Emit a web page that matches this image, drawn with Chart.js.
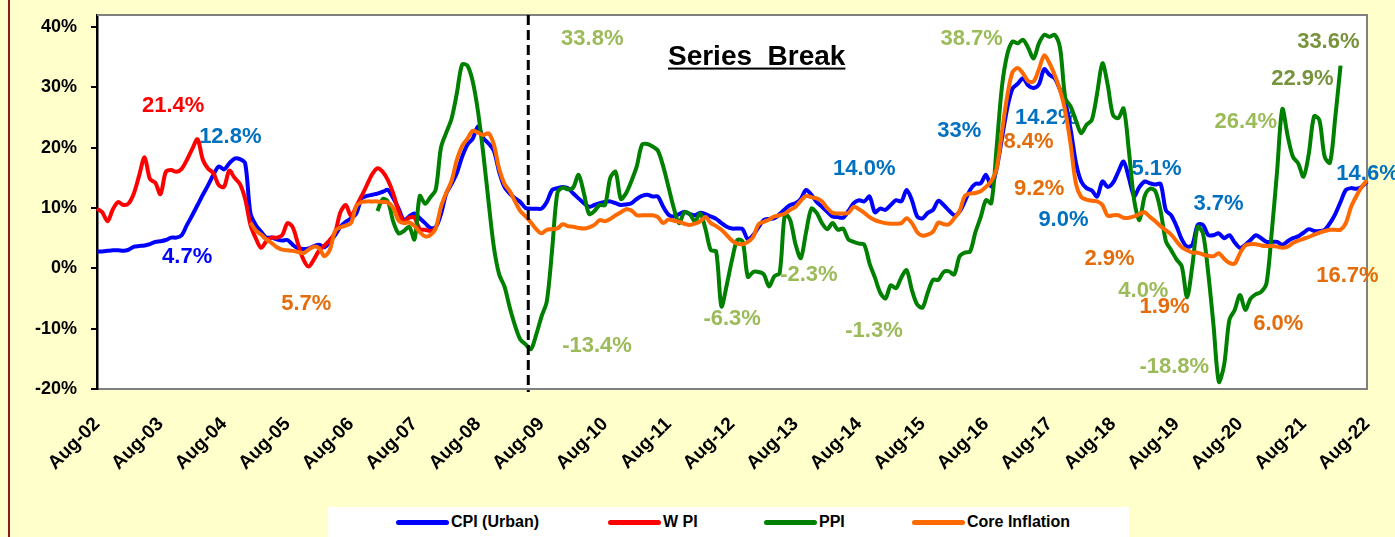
<!DOCTYPE html>
<html>
<head>
<meta charset="utf-8">
<title>CPI, WPI, PPI and Core Inflation</title>
<script src="https://cdn.jsdelivr.net/npm/chart.js@4.4.0/dist/chart.umd.min.js"></script>
<style>
  html, body { margin: 0; padding: 0; }
  body {
    width: 1395px; height: 537px; position: relative; overflow: hidden;
    background: #FFFFCC;
    font-family: "Liberation Sans", Arial, sans-serif;
  }
  #frame { position: absolute; left: 8px; top: 0; width: 2px; height: 537px; background: #8B1A1A; }
  #chart { position: absolute; left: 0; top: 0; }
  #legend { position: absolute; left: 328px; top: 507px; width: 801px; height: 32px; background: #fff; }
  .item { position: absolute; top: 0; height: 30px; display: flex; align-items: center;
          font-weight: bold; font-size: 16px; color: #000; white-space: nowrap; }
  .swatch { width: 53px; height: 5px; border-radius: 3px; margin-right: 2px; }
</style>
</head>
<body>
<div id="frame"></div>
<canvas id="chart" width="1395" height="537"></canvas>
<div id="legend"></div>

<script>
// Year tick labels on the x axis (one per August)
const tickLabels = ['Aug-02', 'Aug-03', 'Aug-04', 'Aug-05', 'Aug-06', 'Aug-07', 'Aug-08',
    'Aug-09', 'Aug-10', 'Aug-11', 'Aug-12', 'Aug-13', 'Aug-14', 'Aug-15', 'Aug-16',
    'Aug-17', 'Aug-18', 'Aug-19', 'Aug-20', 'Aug-21', 'Aug-22'];
const yTicks = [-20, -10, 0, 10, 20, 30, 40];

// Monthly series, % y/y, starting Aug-02
const cpiUrban = [
    2.8, 2.8, 2.9, 3.0, 3.0, 2.9, 3.1, 3.6, 3.7, 3.8,
    4.0, 4.4, 4.5, 4.7, 5.1, 5.1, 5.5, 7.2, 8.8, 10.5,
    12.2, 13.8, 15.5, 16.9, 16.4, 17.4, 18.2, 18.1, 17.4, 9.1,
    7.2, 6.1, 5.1, 5.1, 4.8, 4.6, 4.7, 3.9, 3.3, 3.2,
    3.3, 3.7, 3.9, 3.5, 4.4, 5.5, 6.9, 7.7, 8.3, 9.1,
    11.6, 12.0, 12.2, 12.4, 12.7, 13.0, 11.6, 9.9, 8.0, 8.6,
    9.1, 8.3, 7.5, 6.7, 6.8, 9.0, 12.4, 14.0, 15.8, 18.5,
    20.5, 21.5, 23.5, 21.6, 20.7, 19.5, 16.0, 13.5, 12.4, 11.6,
    11.0, 10.0, 9.9, 9.9, 9.9, 11.0, 13.0, 13.3, 13.5, 13.3,
    12.4, 11.6, 10.8, 10.2, 10.5, 10.8, 11.0, 11.1, 10.8, 10.5,
    10.6, 10.8, 11.5, 12.0, 12.2, 11.9, 11.9, 10.2, 8.9, 8.6,
    9.0, 9.4, 9.0, 8.8, 9.2, 9.0, 8.6, 8.2, 7.5, 6.9,
    6.6, 6.6, 6.5, 4.8, 5.5, 6.8, 8.0, 8.2, 8.3, 9.0,
    9.8, 10.5, 10.8, 11.5, 13.0, 12.2, 11.0, 10.2, 9.4, 8.6,
    8.5, 8.4, 9.5, 10.8, 11.3, 11.1, 11.9, 9.3, 9.9, 9.7,
    10.5, 11.3, 11.1, 13.0, 11.3, 8.6, 8.3, 9.2, 9.7, 11.2,
    10.5, 9.6, 8.8, 9.4, 11.1, 13.0, 14.0, 14.1, 15.5, 13.6,
    16.5, 21.5, 26.5, 29.8, 30.6, 31.5, 30.3, 29.9, 30.5, 33.0,
    32.1, 31.5, 29.6, 27.5, 23.0, 17.5, 14.4, 13.3, 12.9, 11.9,
    14.4, 13.5, 14.2, 16.0, 17.7, 15.0, 12.0, 13.5, 14.4, 14.1,
    13.9, 14.0, 9.6, 8.8, 7.0, 4.8, 3.6, 3.9, 7.2, 7.2,
    5.5, 5.5, 5.8, 5.0, 5.5, 4.3, 3.4, 3.9, 4.7, 5.5,
    5.0, 4.4, 4.4, 4.4, 3.9, 4.5, 5.0, 5.3, 5.9, 6.5,
    6.2, 6.2, 6.4, 7.5, 9.0, 11.0, 13.0, 13.3, 13.2, 13.5, 14.4
];

// WPI: Aug-02 to Dec-07
const wpiStart = 0;
const wpi = [
    9.9, 9.3, 7.8, 9.8, 11.0, 10.5, 10.8, 12.5, 15.5, 18.4,
    14.8, 14.2, 12.3, 16.0, 16.3, 16.0, 16.5, 18.0, 19.8, 21.4,
    18.0, 16.5, 15.8, 13.8, 13.5, 16.2, 15.0, 14.0, 11.5, 7.2,
    5.0, 3.4, 4.5, 5.1, 5.1, 5.5, 7.5, 6.8, 4.0, 1.5,
    0.3, 1.5, 3.0, 3.8, 4.7, 6.0, 9.3, 10.5, 8.7, 10.3,
    12.0, 13.8, 15.6, 16.6, 16.0, 14.6, 12.4, 9.5, 7.8, 8.4,
    8.4, 6.5, 6.4, 6.2, 6.5
];

// PPI: Jan-07 to Jul-22
const ppiStart = 53;
const ppi = [
    9.5, 11.5, 11.0, 7.7, 5.8, 6.2, 6.9,
    4.8, 12.0, 10.7, 11.8, 13.0, 20.0, 22.5, 24.8, 29.0, 33.8,
    33.6, 31.0, 26.0, 19.0, 11.0, 3.5, -1.0, -3.0, -6.5, -9.5,
    -11.8, -12.6, -13.4, -11.0, -8.0, -5.5, 3.0, 12.5, 13.4, 13.1,
    13.4, 15.5, 12.5, 9.0, 9.5, 10.5, 10.5, 15.0, 16.0, 11.5,
    12.5, 14.5, 16.9, 20.5, 20.6, 20.2, 19.5, 16.9, 13.5, 10.0,
    7.5, 9.3, 9.0, 7.8, 9.1, 6.5, 3.0, 2.8, -6.3, -2.8,
    1.4, 4.7, 4.5, -1.4, -0.6, -0.6, -1.0, -3.0, -1.3, -0.8,
    9.0, 8.0, 4.0, 1.7, 6.0, 9.9, 9.2, 7.5, 6.5, 7.5,
    6.4, 6.6, 4.8, 4.4, 4.1, 3.9, 0.8, -1.5, -4.0, -5.0,
    -2.8, -3.3, -1.5, -0.3, -3.6, -6.0, -6.5, -4.0, -1.9, -1.9,
    -0.6, -0.5, -1.0, 2.0, 2.6, 2.8, 6.0, 8.5, 11.3, 10.8,
    20.0, 30.0, 35.4, 37.6, 37.3, 37.9, 36.5, 34.8, 37.3, 38.7,
    38.4, 38.7, 36.5, 28.2, 26.8, 24.5, 22.4, 23.8, 24.6, 29.0,
    34.0, 30.4, 25.4, 24.9, 26.5, 19.5, 11.3, 8.0, 12.0, 13.2,
    12.8, 9.5, 4.5, 3.0, 1.5, 0.3, -4.8, 0.5, 6.9, 5.8,
    -0.8, -9.5, -18.8, -16.0, -8.5, -6.9, -4.4, -6.9, -5.0, -4.3,
    -3.9, -2.5, 6.0, 16.0, 26.4, 22.0, 18.5, 17.4, 15.2, 19.0,
    25.2, 24.6, 18.5, 17.5, 25.0, 33.6
];

// Core inflation: Jan-05 to Aug-22
const coreStart = 29;
const coreInflation = [
    7.6,
    6.3, 5.6, 4.8, 4.2, 3.5, 3.1, 3.0, 2.9, 2.7, 2.5,
    3.1, 3.6, 3.3, 2.0, 3.1, 6.2, 6.8, 7.1, 7.5, 10.3,
    11.0, 11.1, 11.1, 11.1, 11.0, 10.9, 10.0, 7.9, 7.5, 7.6,
    7.0, 6.0, 5.3, 5.5, 6.6, 10.2, 12.5, 14.5, 18.0, 20.3,
    21.5, 22.8, 22.5, 22.1, 22.4, 20.5, 16.5, 14.0, 12.8, 11.1,
    9.5, 8.6, 7.6, 6.5, 5.8, 6.4, 6.5, 6.6, 7.3, 7.0,
    6.9, 6.7, 6.6, 6.8, 7.2, 8.0, 7.8, 8.2, 8.8, 9.3,
    9.8, 9.6, 8.8, 8.8, 8.8, 8.8, 8.5, 7.5, 8.1, 7.9,
    7.7, 7.4, 7.2, 7.4, 7.8, 8.5, 7.5, 7.0, 6.4, 5.5,
    4.6, 4.1, 4.0, 4.4, 5.2, 7.3, 7.7, 8.1, 8.6, 8.8,
    9.1, 9.7, 10.2, 11.2, 12.0, 11.8, 11.6, 11.1, 10.0, 9.2,
    9.1, 9.1, 9.2, 10.2, 9.8, 9.2, 8.5, 8.0, 7.7, 7.5,
    7.4, 7.4, 7.5, 8.3, 7.5, 6.0, 5.4, 5.6, 6.1, 7.6,
    7.3, 7.3, 8.3, 9.5, 12.0, 12.4, 12.5, 12.8, 13.5, 14.5,
    16.5, 22.5, 28.5, 32.5, 33.2, 32.3, 31.0, 31.0, 33.0, 35.3,
    34.0, 32.0, 29.5, 26.0, 20.5, 14.0, 11.8, 11.4, 11.2, 11.1,
    10.5, 8.7, 8.8, 8.8, 8.4, 8.4, 8.6, 9.0, 9.3, 8.5,
    7.8, 7.0, 6.3, 5.6, 4.5, 3.5, 3.0, 2.6, 2.6, 2.3,
    2.1, 2.0, 2.5, 1.6, 0.9, 0.8, 2.5, 3.8, 4.0, 4.0,
    3.8, 3.7, 3.7, 3.6, 3.4, 3.6, 4.2, 4.6, 4.9, 5.2,
    5.6, 5.9, 6.2, 6.4, 6.4, 6.4, 7.5, 10.2, 12.0, 13.5, 14.6
];

// Text notes on the chart: [text, month index, value %, colour]
const annotations = [
    ['21.4%', 8.5, 25.9, '#FF0000'],
    ['12.8%', 19.3, 20.8, '#0070C0'],
    ['4.7%', 12.3, 0.9, '#0000FF'],
    ['5.7%', 34.8, -6.9, '#E46C0A'],
    ['33.8%', 87.7, 37.0, '#9BBB59'],
    ['-13.4%', 87.9, -13.9, '#9BBB59'],
    ['-6.3%', 114.6, -9.4, '#9BBB59'],
    ['-2.3%', 129.1, -2.1, '#9BBB59'],
    ['14.0%', 139.1, 15.5, '#0070C0'],
    ['-1.3%', 141.4, -11.4, '#9BBB59'],
    ['33%', 158.8, 21.8, '#0070C0'],
    ['38.7%', 159.4, 37.0, '#9BBB59'],
    ['14.2%', 173.5, 23.9, '#0070C0'],
    ['8.4%', 171.3, 19.9, '#E46C0A'],
    ['9.2%', 173.3, 12.2, '#E46C0A'],
    ['9.0%', 177.9, 7.0, '#0070C0'],
    ['5.1%', 195.5, 15.5, '#0070C0'],
    ['2.9%', 186.6, 0.55, '#E46C0A'],
    ['4.0%', 193.0, -4.8, '#9BBB59'],
    ['1.9%', 197.0, -7.4, '#E46C0A'],
    ['-18.8%', 197.0, -17.4, '#9BBB59'],
    ['3.7%', 207.2, 9.7, '#0070C0'],
    ['26.4%', 211.2, 23.3, '#9BBB59'],
    ['22.9%', 221.9, 30.4, '#77933C'],
    ['33.6%', 226.8, 36.5, '#77933C'],
    ['14.6%', 234.2, 14.6, '#0070C0'],
    ['6.0%', 218.5, -10.2, '#E46C0A'],
    ['16.7%', 230.4, -2.3, '#E46C0A']
];
const seriesBreakAt = 81.5;   // month index of the dashed line

// Build the monthly category labels from the first tick label
const monthNames = ['Jan', 'Feb', 'Mar', 'Apr', 'May', 'Jun', 'Jul', 'Aug', 'Sep', 'Oct', 'Nov', 'Dec'];
const months = [];
for (let i = 0; i < cpiUrban.length; i++) {
    const m = 7 + i;
    const yr = (2 + Math.floor(m / 12)) % 100;
    months.push(monthNames[m % 12] + '-' + String(yr).padStart(2, '0'));
}

function placeSeries(start, values) {
    const out = new Array(months.length).fill(null);
    values.forEach((v, k) => { out[start + k] = v; });
    return out;
}

const series = [
    { label: 'CPI (Urban)', data: cpiUrban, color: '#0000FF', order: 4 },
    { label: 'W PI', data: placeSeries(wpiStart, wpi), color: '#FF0000', order: 3 },
    { label: 'PPI', data: placeSeries(ppiStart, ppi), color: '#008000', order: 2 },
    { label: 'Core Inflation', data: placeSeries(coreStart, coreInflation), color: '#FF6A00', order: 1 }
];

// Plot area, notes, the series break and the frame
const decorations = {
    id: 'decorations',
    beforeDraw(chart) {
        const { ctx, chartArea: a } = chart;
        ctx.save();
        ctx.fillStyle = '#fff';
        ctx.fillRect(a.left, a.top, a.right - a.left, a.bottom - a.top);
        ctx.restore();
    },
    beforeDatasetsDraw(chart) {
        const { ctx, chartArea: a, scales: { x, y } } = chart;
        ctx.save();
        // grey frame on top and right
        ctx.strokeStyle = '#808080';
        ctx.lineWidth = 2;
        ctx.beginPath();
        ctx.moveTo(a.left, a.top);
        ctx.lineTo(a.right, a.top);
        ctx.lineTo(a.right, a.bottom);
        ctx.stroke();

        ctx.font = 'bold 22px "Liberation Sans", Arial, sans-serif';
        ctx.textAlign = 'left';
        ctx.textBaseline = 'alphabetic';
        annotations.forEach(([text, i, v, color]) => {
            ctx.fillStyle = color;
            ctx.fillText(text, x.getPixelForValue(i), y.getPixelForValue(v));
        });

        // "Series Break" title, underlined
        const bx = x.getPixelForValue(107.9), by = y.getPixelForValue(33.7);
        ctx.font = 'bold 28px "Liberation Sans", Arial, sans-serif';
        ctx.fillStyle = '#000';
        const w = ctx.measureText('Series  Break').width;
        ctx.fillText('Series  Break', bx, by);
        ctx.fillRect(bx, by + 2.5, w, 2);
        ctx.restore();
    },
    afterDatasetsDraw(chart) {
        const { ctx, chartArea: a, scales: { x } } = chart;
        const px = x.getPixelForValue(seriesBreakAt);
        ctx.save();
        ctx.strokeStyle = '#000';
        ctx.lineWidth = 3;
        ctx.setLineDash([10, 5]);
        ctx.beginPath();
        ctx.moveTo(px, a.top);
        ctx.lineTo(px, a.bottom + 3);
        ctx.stroke();
        ctx.restore();
    }
};

Chart.defaults.font.family = '"Liberation Sans", Arial, sans-serif';
Chart.defaults.color = '#000';

new Chart(document.getElementById('chart'), {
    type: 'line',
    data: {
        labels: months,
        datasets: series.map(s => ({
            label: s.label,
            data: s.data,
            borderColor: s.color,
            backgroundColor: s.color,
            borderWidth: 4,
            pointRadius: 0,
            tension: 0.3,
            fill: false,
            order: s.order,
            borderJoinStyle: 'round'
        }))
    },
    options: {
        responsive: false,
        animation: false,
        events: [],
        layout: { padding: { left: 10, top: 15, right: 28, bottom: 0 } },
        plugins: {
            legend: { display: false },
            tooltip: { enabled: false }
        },
        scales: {
            x: {
                type: 'category',
                grid: { display: false, drawTicks: false },
                border: { display: true, color: '#808080', width: 2 },
                ticks: {
                    autoSkip: false,
                    minRotation: 45,
                    maxRotation: 45,
                    padding: 24,
                    font: { size: 19, weight: 'bold' },
                    callback: function (value, index) {
                        return index % 12 === 0 ? tickLabels[index / 12] : null;
                    }
                },
                afterFit: (scale) => {
                    scale.height = 148;
                    scale.paddingLeft = 0;
                    scale.paddingRight = 0;
                }
            },
            y: {
                min: -20,
                max: 42,
                grid: { drawOnChartArea: false, drawTicks: true, tickLength: 6, color: '#000', lineWidth: 2 },
                border: { display: true, color: '#000', width: 2.5 },
                ticks: {
                    padding: 14,
                    font: { size: 18, weight: 'bold' },
                    callback: (v) => v + '%'
                },
                afterBuildTicks: (scale) => { scale.ticks = yTicks.map(v => ({ value: v })); },
                afterFit: (scale) => {
                    scale.width = 87;
                    scale.paddingTop = 0;
                    scale.paddingBottom = 0;
                }
            }
        }
    },
    plugins: [decorations]
});

// Legend below the chart
const legendStarts = [68, 280, 436, 584];
const legend = document.getElementById('legend');
series.forEach((s, k) => {
    const item = document.createElement('div');
    item.className = 'item';
    item.style.left = legendStarts[k] + 'px';
    item.innerHTML = `<span class="swatch" style="background:${s.color}"></span>${s.label}`;
    legend.appendChild(item);
});
</script>
</body>
</html>
